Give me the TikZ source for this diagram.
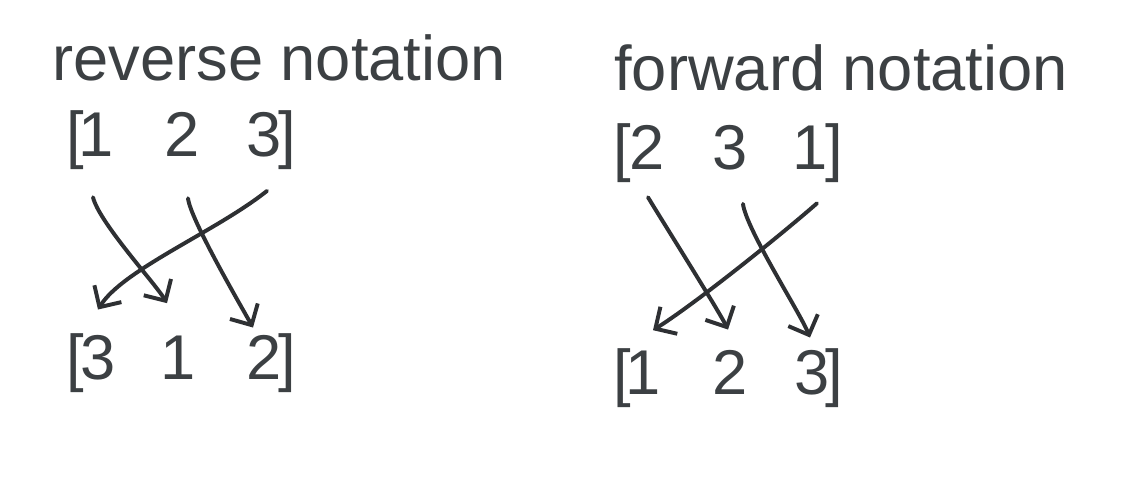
\documentclass[tikz,border=0pt]{standalone}
\usepackage{fontspec}
\setmainfont{Liberation Sans}
\usetikzlibrary{arrows.meta}
\definecolor{inkgray}{HTML}{3C4043}
\definecolor{pengray}{HTML}{2E3033}

\begin{document}
\begin{tikzpicture}[x=0.025cm, y=-0.025cm]

\tikzstyle{heading}=[anchor=base west, inner sep=0pt, text=inkgray,
font=\fontsize{45}{54}\selectfont]
\tikzstyle{entry}=[anchor=base, inner sep=0pt, text=inkgray,
font=\fontsize{45}{54}\selectfont]
\tikzstyle{permarrow}=[-{Straight Barb[angle=90:16pt]}, line width=2.8pt,
draw=pengray, line cap=round, line join=round]

\useasboundingbox (0,0) rectangle (1126,484);

% reverse notation
\node[heading] (revtitle) at (52,81) {reverse notation};
\node[entry] (lto) at (75,157) {[};
\node[entry] (lt1) at (96,157) {1};
\node[entry] (lt2) at (182,157) {2};
\node[entry] (lt3) at (264,157) {3};
\node[entry] (ltc) at (287,157) {]};
\node[entry] (lbo) at (75,380) {[};
\node[entry] (lb3) at (98,380) {3};
\node[entry] (lb1) at (178,380) {1};
\node[entry] (lb2) at (264,380) {2};
\node[entry] (lbc) at (287,380) {]};

\draw[permarrow] ([shift={(-3,40)}]lt1.south)
  .. controls +(6,25) and +(-12,-20) .. ([shift={(-11,-33)}]lb1.north);
\draw[permarrow] ([shift={(6,41)}]lt2.south)
  .. controls +(2,20) and +(-14,-25) .. ([shift={(-11,-8)}]lb2.north);
\draw[permarrow] ([shift={(3,33)}]lt3.south)
  .. controls +(-50,40) and +(25,-40) .. ([shift={(0,-26)}]lb3.north);

% forward notation
\node[heading] (fwdtitle) at (614,91) {forward notation};
\node[entry] (rto) at (622,170) {[};
\node[entry] (rt2) at (647,170) {2};
\node[entry] (rt3) at (730,170) {3};
\node[entry] (rt1) at (810,170) {1};
\node[entry] (rtc) at (834,170) {]};
\node[entry] (rbo) at (622,395) {[};
\node[entry] (rb1) at (643,395) {1};
\node[entry] (rb2) at (730,395) {2};
\node[entry] (rb3) at (812,395) {3};
\node[entry] (rbc) at (834,395) {]};

\draw[permarrow] ([shift={(1,27)}]rt2.south)
  .. controls +(12,20) and +(-10,-20) .. ([shift={(-2,-21)}]rb2.north);
\draw[permarrow] ([shift={(13,33)}]rt3.south)
  .. controls +(3,25) and +(-10,-25) .. ([shift={(-2,-13)}]rb3.north);
\draw[permarrow] ([shift={(7,33)}]rt1.south)
  .. controls +(-40,35) and +(40,-25) .. ([shift={(10,-21)}]rb1.north);

\end{tikzpicture}
\end{document}
